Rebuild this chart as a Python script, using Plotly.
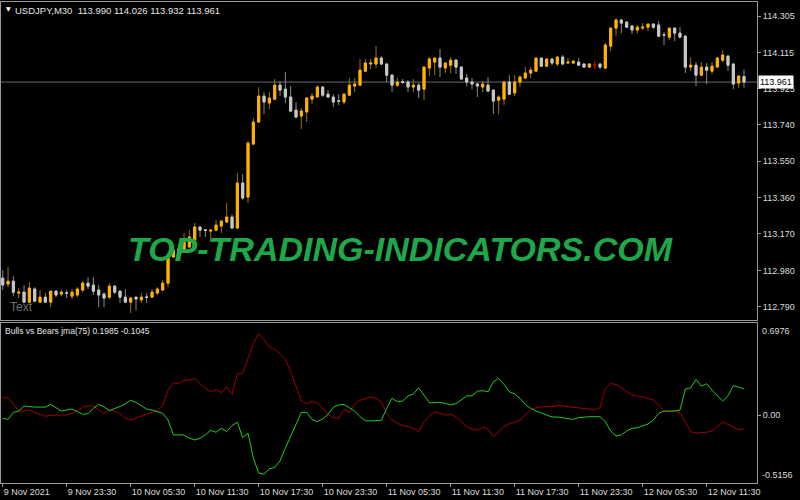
import numpy as np
import plotly.graph_objects as go

# ---------------- data ----------------
open_ = [
    112.940, 112.909, 112.924, 112.862, 112.867, 112.815, 112.883, 112.815, 112.841, 112.815,
    112.872, 112.857, 112.864, 112.846, 112.852, 112.878, 112.914, 112.904, 112.878, 112.857,
    112.841, 112.898, 112.872, 112.841, 112.815, 112.841, 112.826, 112.842, 112.841, 112.862,
    112.878, 112.914, 113.050, 113.091, 113.091, 113.102, 113.138, 113.206, 113.192, 113.185,
    113.190, 113.211, 113.232, 113.258, 113.201, 113.435, 113.362, 113.638, 113.753, 113.888,
    113.852, 113.872, 113.945, 113.924, 113.883, 113.815, 113.784, 113.805, 113.872, 113.883,
    113.935, 113.898, 113.883, 113.863, 113.857, 113.893, 113.940, 113.945, 114.018, 114.055,
    114.055, 114.086, 114.055, 113.997, 113.945, 113.963, 113.961, 113.935, 113.945, 113.924,
    114.034, 114.065, 114.086, 114.034, 114.049, 114.075, 114.039, 113.982, 113.961, 113.951,
    113.935, 113.945, 113.919, 113.867, 113.872, 113.961, 113.904, 113.961, 113.982, 114.008,
    114.018, 114.086, 114.044, 114.081, 114.055, 114.091, 114.060, 114.060, 114.065, 114.055,
    114.039, 114.052, 114.055, 114.034, 114.148, 114.242, 114.284, 114.273, 114.253, 114.232,
    114.242, 114.247, 114.263, 114.258, 114.207, 114.195, 114.242, 114.216, 114.200, 114.039,
    114.049, 113.997, 114.039, 114.018, 114.039, 114.075, 114.096, 114.055, 113.956, 113.990,
]
high = [
    112.982, 112.997, 112.950, 112.888, 112.904, 112.919, 112.893, 112.878, 112.862, 112.872,
    112.878, 112.878, 112.878, 112.883, 112.893, 112.924, 112.945, 112.945, 112.904, 112.867,
    112.914, 112.904, 112.878, 112.883, 112.841, 112.841, 112.862, 112.862, 112.883, 112.893,
    112.930, 113.070, 113.096, 113.102, 113.175, 113.190, 113.227, 113.211, 113.195, 113.190,
    113.242, 113.242, 113.331, 113.273, 113.487, 113.482, 113.654, 113.773, 113.935, 113.909,
    113.909, 113.977, 113.966, 114.013, 113.940, 113.857, 113.825, 113.883, 113.904, 113.945,
    113.940, 113.919, 113.898, 113.898, 113.904, 113.982, 113.982, 114.081, 114.081, 114.081,
    114.148, 114.096, 114.060, 114.003, 113.982, 113.977, 113.971, 113.977, 113.956, 114.044,
    114.091, 114.086, 114.133, 114.065, 114.091, 114.081, 114.044, 114.003, 113.982, 113.956,
    113.966, 113.987, 113.924, 113.893, 113.966, 113.997, 113.997, 113.997, 114.039, 114.039,
    114.086, 114.086, 114.086, 114.086, 114.096, 114.102, 114.086, 114.075, 114.086, 114.060,
    114.060, 114.070, 114.060, 114.164, 114.247, 114.294, 114.289, 114.279, 114.258, 114.258,
    114.268, 114.263, 114.268, 114.279, 114.221, 114.242, 114.247, 114.247, 114.206, 114.091,
    114.065, 114.065, 114.060, 114.065, 114.091, 114.128, 114.102, 114.060, 113.997, 114.026,
]
low = [
    112.878, 112.893, 112.846, 112.836, 112.810, 112.810, 112.815, 112.815, 112.815, 112.789,
    112.841, 112.846, 112.836, 112.831, 112.841, 112.867, 112.883, 112.852, 112.789, 112.789,
    112.831, 112.857, 112.810, 112.810, 112.758, 112.773, 112.810, 112.810, 112.836, 112.852,
    112.872, 112.893, 113.044, 113.055, 113.086, 113.096, 113.128, 113.154, 113.154, 113.128,
    113.185, 113.175, 113.227, 113.195, 113.195, 113.346, 113.331, 113.633, 113.747, 113.794,
    113.820, 113.867, 113.888, 113.852, 113.805, 113.773, 113.716, 113.753, 113.846, 113.883,
    113.883, 113.878, 113.831, 113.841, 113.846, 113.888, 113.909, 113.940, 114.013, 114.029,
    114.034, 114.049, 113.961, 113.909, 113.935, 113.951, 113.909, 113.909, 113.878, 113.867,
    113.992, 113.997, 113.987, 114.008, 114.008, 114.003, 113.971, 113.940, 113.924, 113.883,
    113.909, 113.909, 113.794, 113.794, 113.841, 113.893, 113.888, 113.935, 113.982, 113.982,
    114.013, 114.039, 114.039, 114.049, 114.044, 114.049, 114.055, 114.055, 114.044, 114.034,
    114.034, 114.029, 114.029, 114.029, 114.122, 114.200, 114.216, 114.242, 114.211, 114.216,
    114.232, 114.227, 114.237, 114.195, 114.154, 114.180, 114.174, 114.190, 114.008, 114.018,
    113.940, 113.992, 113.951, 114.003, 114.039, 114.065, 114.018, 113.924, 113.930, 113.932,
]
close = [
    112.904, 112.924, 112.867, 112.867, 112.815, 112.888, 112.820, 112.841, 112.815, 112.872,
    112.852, 112.867, 112.862, 112.867, 112.883, 112.914, 112.898, 112.872, 112.852, 112.836,
    112.898, 112.867, 112.841, 112.815, 112.836, 112.831, 112.841, 112.840, 112.867, 112.883,
    112.914, 113.050, 113.086, 113.070, 113.128, 113.154, 113.206, 113.190, 113.188, 113.190,
    113.216, 113.237, 113.258, 113.201, 113.435, 113.357, 113.643, 113.753, 113.888, 113.857,
    113.878, 113.945, 113.919, 113.883, 113.810, 113.779, 113.810, 113.878, 113.888, 113.935,
    113.893, 113.883, 113.857, 113.861, 113.898, 113.945, 113.951, 114.023, 114.060, 114.060,
    114.086, 114.055, 113.997, 113.945, 113.961, 113.959, 113.935, 113.945, 113.919, 114.039,
    114.081, 114.086, 114.039, 114.060, 114.075, 114.039, 113.977, 113.961, 113.951, 113.940,
    113.951, 113.914, 113.862, 113.883, 113.961, 113.898, 113.961, 113.987, 114.008, 114.023,
    114.086, 114.044, 114.081, 114.060, 114.091, 114.055, 114.065, 114.070, 114.049, 114.039,
    114.055, 114.050, 114.039, 114.154, 114.242, 114.284, 114.268, 114.247, 114.232, 114.247,
    114.247, 114.263, 114.247, 114.200, 114.205, 114.242, 114.216, 114.195, 114.039, 114.049,
    113.997, 114.039, 114.023, 114.044, 114.086, 114.102, 114.049, 113.951, 113.992, 113.961,
]
highlight_bar = 111  # the red doji

bulls = [
    -0.025, -0.033, 0.020, 0.030, 0.068, 0.063, 0.060, 0.060, 0.060, 0.080,
    0.053, 0.030, 0.038, 0.045, 0.025, 0.005, 0.010, 0.050, 0.080, 0.063,
    0.033, 0.048, 0.065, 0.086, 0.111, 0.096, 0.070, 0.045, 0.038, 0.025,
    0.013, -0.038, -0.151, -0.151, -0.151, -0.176, -0.189, -0.176, -0.151, -0.116,
    -0.131, -0.101, -0.126, -0.080, -0.055, -0.171, -0.138, -0.327, -0.441, -0.448,
    -0.408, -0.398, -0.347, -0.252, -0.164, -0.075, 0.020, 0.020, -0.035, -0.050,
    -0.030, 0.005, 0.058, 0.076, 0.080, 0.055, 0.030, -0.013, -0.043, -0.045,
    -0.043, -0.040, 0.050, 0.126, 0.101, 0.106, 0.144, 0.159, 0.206, 0.146,
    0.093, 0.093, 0.096, 0.088, 0.076, 0.086, 0.116, 0.144, 0.146, 0.181,
    0.184, 0.176, 0.252, 0.277, 0.232, 0.176, 0.159, 0.126, 0.080, 0.050,
    0.030, 0.015, 0.000, -0.015, -0.015, -0.020, -0.028, -0.033, -0.020, -0.015,
    -0.013, -0.013, -0.013, -0.050, -0.121, -0.159, -0.151, -0.121, -0.101, -0.096,
    -0.080, -0.068, -0.038, 0.013, 0.030, 0.030, 0.030, 0.038, 0.196, 0.206,
    0.269, 0.219, 0.237, 0.189, 0.151, 0.106, 0.146, 0.222, 0.211, 0.1985,
]
bears = [
    0.131, 0.131, 0.083, 0.030, 0.030, 0.038, 0.020, 0.005, -0.010, -0.003,
    0.000, 0.000, 0.000, 0.013, 0.033, 0.060, 0.068, 0.070, 0.040, 0.010,
    0.038, 0.030, 0.010, -0.025, -0.038, -0.025, -0.010, 0.005, 0.020, 0.035,
    0.070, 0.189, 0.244, 0.239, 0.264, 0.264, 0.277, 0.239, 0.201, 0.176,
    0.194, 0.169, 0.214, 0.156, 0.315, 0.315, 0.428, 0.541, 0.617, 0.574,
    0.516, 0.498, 0.466, 0.423, 0.327, 0.214, 0.106, 0.086, 0.101, 0.093,
    0.045, 0.005, -0.020, -0.025, 0.045, 0.020, 0.083, 0.111, 0.126, 0.136,
    0.126, 0.101, 0.013, -0.038, -0.063, -0.080, -0.088, -0.101, -0.126, -0.055,
    -0.005, 0.025, 0.013, 0.000, 0.005, -0.015, -0.050, -0.088, -0.106, -0.116,
    -0.091, -0.106, -0.164, -0.126, -0.088, -0.065, -0.055, -0.038, 0.000, 0.038,
    0.055, 0.063, 0.063, 0.063, 0.073, 0.068, 0.063, 0.058, 0.055, 0.050,
    0.045, 0.040, 0.055, 0.201, 0.239, 0.232, 0.206, 0.181, 0.151, 0.144,
    0.136, 0.126, 0.113, 0.076, 0.025, 0.030, 0.030, 0.013, -0.050, -0.126,
    -0.138, -0.133, -0.131, -0.121, -0.091, -0.055, -0.070, -0.091, -0.113, -0.1045,
]

time_tick_bars = [0, 12, 24, 36, 48, 60, 72, 84, 96, 108, 120, 132]
time_tick_text = ["9 Nov 2021", "9 Nov 23:30", "10 Nov 05:30", "10 Nov 11:30",
                  "10 Nov 17:30", "10 Nov 23:30", "11 Nov 05:30", "11 Nov 11:30",
                  "11 Nov 17:30", "11 Nov 23:30", "12 Nov 05:30", "12 Nov 11:30"]
price_ticks = [112.790, 112.980, 113.170, 113.360, 113.550, 113.740, 113.925, 114.115, 114.305]
price_range = [112.722, 114.378]
ind_max, ind_min = 0.6976, -0.5156
last_price = 113.961
header = "USDJPY,M30  113.990 114.026 113.932 113.961"
ind_label = "Bulls vs Bears jma(75) 0.1985 -0.1045"

n = len(close)
assert all(len(a) == n for a in (open_, high, low, bulls, bears))
x = np.arange(n)
o = np.array(open_, float); h = np.array(high, float)
l = np.array(low, float); c = np.array(close, float)
mask = x != highlight_bar

def masked(a):
    b = a.copy(); b[~mask] = np.nan; return b

BULL, BEAR = "#ffb300", "#c8c8c8"
BULL_W, BEAR_W = "#9a7412", "#8a8a8a"
GRID = "#9a9a9a"
TXT = "#dcdcdc"
FONT = "Liberation Sans"

fig = go.Figure()
# wicks
fig.add_trace(go.Candlestick(
    x=x, open=masked(o), high=masked(h), low=masked(l), close=masked(c),
    increasing=dict(line=dict(color=BULL_W, width=1), fillcolor=BULL_W),
    decreasing=dict(line=dict(color=BEAR_W, width=1), fillcolor=BEAR_W),
    whiskerwidth=0, xaxis="x", yaxis="y", hoverinfo="skip"))
# bodies
fig.add_trace(go.Candlestick(
    x=x, open=masked(o), close=masked(c),
    high=masked(np.maximum(o, c)), low=masked(np.minimum(o, c)),
    increasing=dict(line=dict(color=BULL, width=1), fillcolor=BULL),
    decreasing=dict(line=dict(color=BEAR, width=1), fillcolor=BEAR),
    whiskerwidth=0, xaxis="x", yaxis="y", hoverinfo="skip"))
# highlighted doji
hb = [highlight_bar]
fig.add_trace(go.Candlestick(
    x=x[hb], open=o[hb], high=h[hb], low=l[hb], close=c[hb],
    increasing=dict(line=dict(color="#e00000", width=1), fillcolor="#e00000"),
    decreasing=dict(line=dict(color="#e00000", width=1), fillcolor="#e00000"),
    whiskerwidth=0, xaxis="x", yaxis="y", hoverinfo="skip"))

fig.add_trace(go.Scatter(x=x, y=bears, mode="lines", line=dict(color="#a00000", width=1),
                         xaxis="x2", yaxis="y2", hoverinfo="skip"))
fig.add_trace(go.Scatter(x=x, y=bulls, mode="lines", line=dict(color="#22cc22", width=1),
                         xaxis="x2", yaxis="y2", hoverinfo="skip"))

# pixel geometry helpers
T, B = 2, 483          # plot area top / bottom in px
Lpx, Rpx = 1, 757
def py(ypx): return (B - ypx) / (B - T)
def px(xpx): return (xpx - Lpx) / (Rpx - Lpx)

xmin = -0.32
xmax = xmin + (Rpx - Lpx) / 5.333

axis_common = dict(showgrid=False, zeroline=False, showline=True, mirror=True,
                   linecolor=GRID, linewidth=1)

fig.update_layout(
    width=800, height=500,
    margin=dict(l=Lpx, r=800 - Rpx, t=T, b=500 - B),
    paper_bgcolor="black", plot_bgcolor="black",
    showlegend=False, hovermode=False, boxgap=0.45,
    font=dict(family=FONT, size=9, color=TXT),
    xaxis=dict(domain=[0, 1], anchor="y", range=[xmin, xmax], showticklabels=False,
               ticks="", rangeslider=dict(visible=False), **axis_common),
    yaxis=dict(domain=[py(320), 1], anchor="x", side="right", range=price_range,
               tickvals=price_ticks, ticktext=[f"{v:.3f}" for v in price_ticks],
               ticks="outside", ticklen=3, tickcolor=GRID, **axis_common),
    xaxis2=dict(domain=[0, 1], anchor="y2", range=[xmin, xmax], matches="x",
                tickvals=time_tick_bars, ticktext=time_tick_text,
                ticks="outside", ticklen=3, tickcolor=GRID,
                ticklabelposition="outside right", **axis_common),
    yaxis2=dict(domain=[0, py(323)], anchor="x2", side="right", range=[ind_min, ind_max],
                tickvals=[0], ticktext=["0.00"], ticks="outside", ticklen=3,
                tickcolor=GRID, **axis_common),
)

# current price line + label
fig.add_shape(type="line", xref="x domain", yref="y", x0=0, x1=1, y0=last_price, y1=last_price,
              line=dict(color="#6b6878", width=1), layer="below")
fig.add_annotation(xref="paper", yref="y", x=1, y=last_price, xanchor="left", xshift=1,
                   text=f"{last_price:.3f}", showarrow=False, bgcolor="white",
                   font=dict(color="black", size=9, family=FONT), borderpad=1)

# indicator range labels
fig.add_annotation(xref="paper", yref="y2", x=1, y=ind_max, xanchor="left", yanchor="top",
                   xshift=3, yshift=-1, text=f"{ind_max:.4f}", showarrow=False,
                   font=dict(color=TXT, size=9, family=FONT))
fig.add_annotation(xref="paper", yref="y2", x=1, y=ind_min, xanchor="left", yanchor="bottom",
                   xshift=3, yshift=1, text=f"{ind_min:.4f}", showarrow=False,
                   font=dict(color=TXT, size=9, family=FONT))

# header texts
fig.add_annotation(xref="paper", yref="paper", x=px(4), y=py(9), xanchor="left", yanchor="middle",
                   text="▼", showarrow=False, font=dict(color="white", size=6, family="DejaVu Sans"))
fig.add_annotation(xref="paper", yref="paper", x=px(13), y=py(10), xanchor="left", yanchor="middle",
                   text=header, showarrow=False, font=dict(color="#e6e6e6", size=9.5, family=FONT))
fig.add_annotation(xref="paper", yref="paper", x=px(3), y=py(331), xanchor="left", yanchor="middle",
                   text=ind_label, showarrow=False, font=dict(color="#e6e6e6", size=8.5, family=FONT))
fig.add_annotation(xref="paper", yref="paper", x=px(8), y=py(307), xanchor="left", yanchor="middle",
                   text="Text", showarrow=False, font=dict(color="#707070", size=12, family=FONT))

# watermark
fig.add_annotation(xref="paper", yref="paper", x=px(400), y=py(249), xanchor="center", yanchor="middle",
                   text="<b><i>TOP-TRADING-INDICATORS.COM</i></b>", showarrow=False,
                   font=dict(color="#1fa84a", size=34, family="Liberation Sans"))

fig.write_html("out.html", config={"displayModeBar": False},
               post_script="document.body.style.margin='0';")
